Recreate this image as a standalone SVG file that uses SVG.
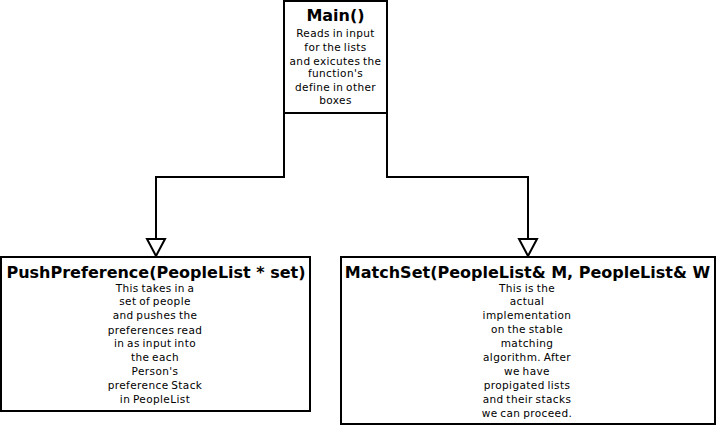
<svg xmlns="http://www.w3.org/2000/svg" width="718" height="427" viewBox="0 0 718 427">
<style>
.box{fill:#fff;stroke:#000;stroke-width:2}
.ln{fill:none;stroke:#000;stroke-width:2}
.t{font-family:"DejaVu Sans","Liberation Sans",sans-serif;font-weight:bold;font-size:16px;fill:#000;text-anchor:middle}
.b{font-family:"DejaVu Sans","Liberation Sans",sans-serif;font-size:10.5px;letter-spacing:0.4px;word-spacing:-1px;fill:#000;text-anchor:middle}
</style>
<defs>
<marker id="tri" viewBox="-2 -11 21 22" refX="0" refY="0" markerWidth="21" markerHeight="22" markerUnits="userSpaceOnUse" orient="auto">
<path d="M0,-9 L17,0 L0,9 Z" fill="#fff" stroke="#000" stroke-width="2" stroke-linejoin="miter"/>
</marker>
</defs>
<g id="connectors">
<path class="ln" d="M284,113 V177 H156 V239" marker-end="url(#tri)"/>
<path class="ln" d="M387,113 V177 H528 V239" marker-end="url(#tri)"/>
</g>
<g id="main">
<rect class="box" x="284" y="1" width="103" height="112"/>
<text class="t" x="335.5" y="21">Main()</text>
<text class="b" x="335.5" y="37">Reads in input</text>
<text class="b" x="335.5" y="51">for the lists</text>
<text class="b" x="335.5" y="64.5">and exicutes the</text>
<text class="b" x="335.5" y="77">function's</text>
<text class="b" x="335.5" y="90.5">define in other</text>
<text class="b" x="335.5" y="104">boxes</text>
</g>
<g id="pushpreference">
<rect class="box" x="1" y="257" width="309" height="154"/>
<text class="t" x="156" y="277.5">PushPreference(PeopleList * set)</text>
<text class="b" x="155" y="291.5">This takes in a</text>
<text class="b" x="155" y="305.3">set of people</text>
<text class="b" x="155" y="319.3">and pushes the</text>
<text class="b" x="155" y="333.5">preferences read</text>
<text class="b" x="155" y="347">in as input into</text>
<text class="b" x="155" y="361">the each</text>
<text class="b" x="155" y="375.3">Person's</text>
<text class="b" x="155" y="389">preference Stack</text>
<text class="b" x="155" y="403">in PeopleList</text>
</g>
<g id="matchset">
<rect class="box" x="341" y="257" width="374" height="167"/>
<text class="t" x="527.5" y="277.5">MatchSet(PeopleList&amp; M, PeopleList&amp; W</text>
<text class="b" x="527" y="291.5">This is the</text>
<text class="b" x="527" y="304.7">actual</text>
<text class="b" x="527" y="318.7">implementation</text>
<text class="b" x="527" y="332.7">on the stable</text>
<text class="b" x="527" y="347">matching</text>
<text class="b" x="527" y="361">algorithm. After</text>
<text class="b" x="527" y="374.7">we have</text>
<text class="b" x="527" y="389">propigated lists</text>
<text class="b" x="527" y="403">and their stacks</text>
<text class="b" x="527" y="416.7">we can proceed.</text>
</g>
</svg>
